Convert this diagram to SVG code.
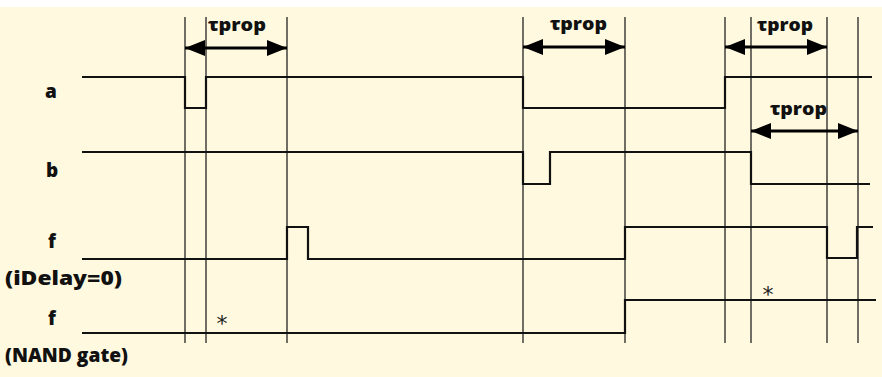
<svg xmlns="http://www.w3.org/2000/svg" width="882" height="377" viewBox="0 0 882 377">
<style>
.sig{fill:none;stroke:#111;stroke-width:2.2;stroke-linejoin:miter}
.grid{stroke:#222;stroke-width:1.3}
.lbl{font-family:"Open Sans","DejaVu Sans",sans-serif;font-weight:800;font-size:19px;fill:#111}
.tau{font-family:"Open Sans","DejaVu Sans",sans-serif;font-weight:800;font-size:18px;fill:#111}
.ast{font-family:"DejaVu Sans",sans-serif;font-size:22px;fill:#222;text-anchor:middle}
.arr{stroke:#000;stroke-width:2.8;marker-start:url(#ah);marker-end:url(#ah)}
</style>
<defs>
<marker id="ah" viewBox="0 0 20 16" refX="20" refY="8" markerWidth="20" markerHeight="16" markerUnits="userSpaceOnUse" orient="auto-start-reverse">
<path d="M0,0 L20,8 L0,16 Z" fill="#000"/>
</marker>
</defs>
<rect x="0" y="0" width="882" height="377" fill="#ffffff"/>
<rect x="0" y="7" width="882" height="370" fill="#fffadf"/>
<g id="gridlines">
<line class="grid" x1="185" y1="17" x2="185" y2="343"/>
<line class="grid" x1="206" y1="17" x2="206" y2="343"/>
<line class="grid" x1="287" y1="17" x2="287" y2="343"/>
<line class="grid" x1="523" y1="17" x2="523" y2="343"/>
<line class="grid" x1="625" y1="17" x2="625" y2="343"/>
<line class="grid" x1="725" y1="17" x2="725" y2="343"/>
<line class="grid" x1="751" y1="17" x2="751" y2="343"/>
<line class="grid" x1="827" y1="17" x2="827" y2="343"/>
<line class="grid" x1="858" y1="17" x2="858" y2="343"/>
</g>
<g id="labels">
<text class="lbl" x="45" y="98">a</text>
<text class="lbl" x="46" y="177">b</text>
<text class="lbl" x="48" y="248">f</text>
<text class="lbl" x="5" y="285" textLength="117" lengthAdjust="spacingAndGlyphs">(iDelay=0)</text>
<text class="lbl" x="48" y="325">f</text>
<text class="lbl" x="5" y="362" textLength="123" lengthAdjust="spacingAndGlyphs">(NAND gate)</text>
</g>
<g id="signal-a"><path class="sig" d="M82,77 H185 V108 H206 V77 H523 V108 H725 V77 H872"/></g>
<g id="signal-b"><path class="sig" d="M82,152 H523 V184 H550 V152 H751 V184 H870"/></g>
<g id="signal-f-idelay"><path class="sig" d="M82,259 H287 V227 H308 V259 H625 V227 H827 V258 H857 V227 H873"/></g>
<g id="signal-f-nand"><path class="sig" d="M82,333 H625 V300 H876"/></g>
<g id="connectors">
<line class="arr" x1="185" y1="48" x2="287" y2="48"/>
<line class="arr" x1="523" y1="47" x2="625" y2="47"/>
<line class="arr" x1="725" y1="47" x2="827" y2="47"/>
<line class="arr" x1="751" y1="131" x2="858" y2="131"/>
</g>
<g id="tau-labels">
<text class="tau" x="208" y="31" textLength="58" lengthAdjust="spacingAndGlyphs">τprop</text>
<text class="tau" x="550" y="30" textLength="57" lengthAdjust="spacingAndGlyphs">τprop</text>
<text class="tau" x="757" y="31" textLength="56" lengthAdjust="spacingAndGlyphs">τprop</text>
<text class="tau" x="770" y="115" textLength="57" lengthAdjust="spacingAndGlyphs">τprop</text>
</g>
<g id="asterisks">
<text class="ast" x="222" y="331">*</text>
<text class="ast" x="768" y="302">*</text>
</g>
</svg>
